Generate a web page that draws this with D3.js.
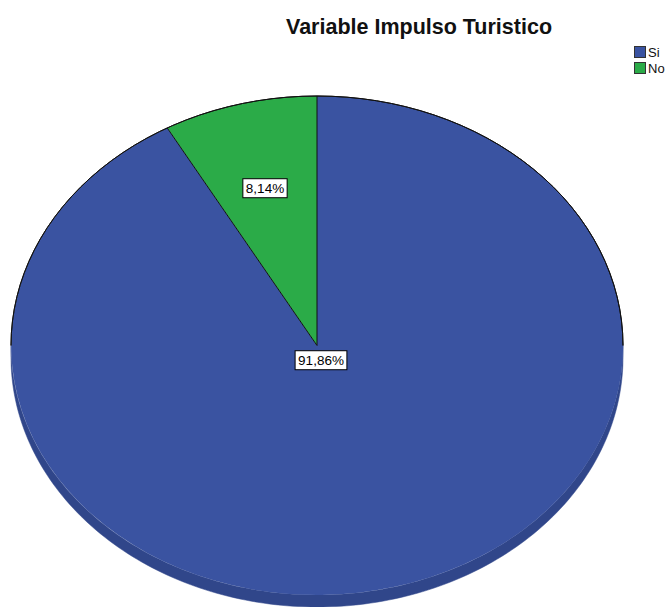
<!DOCTYPE html>
<html>
<head>
<meta charset="utf-8">
<script src="https://cdn.jsdelivr.net/npm/d3@7"></script>
<style>
  body { margin: 0; background: #fff; }
  svg { display: block; font-family: "Liberation Sans", Arial, sans-serif; }
</style>
</head>
<body>
<div id="chart"></div>
<script>
// data
const categories = ['Si', 'No'];
const percents = [91.86, 8.14];
const labels = ['91,86%', '8,14%'];
const colors = ['#3a53a1', '#2bab48'];
const sideColors = ['#30468a', '#238c3b'];

const width = 670;
const height = 607;
const cx = 317;
const cy = 345.5;
const rx = 306;
const ry = 249.5;
const depth = 12;

const $svg = d3.select('#chart').append('svg')
  .attr('width', width)
  .attr('height', height);

const pie = d3.pie().sort(null).value(d => d.value);
const arcs = pie(categories.map((c, i) => ({ name: c, value: percents[i], i })));

// point on the ellipse for a pie angle (0 = top, clockwise)
const pt = (a, dy = 0) => [cx + rx * Math.sin(a), cy - ry * Math.cos(a) + dy];

// side walls (only the front half, angles between PI/2 and 3PI/2)
const $side = $svg.append('g').attr('class', 'g-side');
arcs.forEach(d => {
  const a0 = Math.max(d.startAngle, Math.PI / 2);
  const a1 = Math.min(d.endAngle, 3 * Math.PI / 2);
  if (a1 <= a0) return;
  const n = 160;
  const top = d3.range(n + 1).map(k => pt(a0 + (a1 - a0) * k / n));
  const bottom = top.map(p => [p[0], p[1] + depth]).reverse();
  $side.append('path')
    .attr('d', d3.line()(top.concat(bottom)) + 'Z')
    .attr('fill', sideColors[d.data.i])
    .attr('stroke', sideColors[d.data.i])
    .attr('stroke-width', 0.5);
});

// top face: unit arcs scaled into the ellipse
const arc = d3.arc().innerRadius(0).outerRadius(1);
const $vis = $svg.append('g')
  .attr('transform', `translate(${cx},${cy}) scale(${rx},${ry})`);

$vis.selectAll('path.slice')
  .data(arcs)
  .join('path')
  .attr('class', 'slice')
  .attr('d', arc)
  .attr('fill', d => colors[d.data.i]);

// outline: back rim of the ellipse
$vis.append('path')
  .attr('d', d3.arc().innerRadius(1).outerRadius(1)({ startAngle: -Math.PI / 2, endAngle: Math.PI / 2 }))
  .attr('fill', 'none')
  .attr('stroke', '#111')
  .attr('stroke-width', 1)
  .attr('vector-effect', 'non-scaling-stroke');

// slice dividers
$svg.append('g').attr('class', 'g-dividers')
  .selectAll('line')
  .data(arcs)
  .join('line')
  .attr('x1', cx).attr('y1', cy)
  .attr('x2', d => pt(d.startAngle)[0])
  .attr('y2', d => pt(d.startAngle)[1])
  .attr('stroke', '#111')
  .attr('stroke-width', 1);

// labels
const labelPos = [[321, 360], [265, 188]];
const $labels = $svg.append('g').attr('class', 'g-labels');
arcs.forEach(d => {
  const i = d.data.i;
  const g = $labels.append('g').attr('transform', `translate(${labelPos[i][0]},${labelPos[i][1]})`);
  const t = g.append('text')
    .attr('text-anchor', 'middle')
    .attr('dy', '0.35em')
    .attr('font-size', 13.5)
    .attr('fill', '#000')
    .text(labels[i]);
  const bb = t.node().getBBox();
  g.insert('rect', 'text')
    .attr('x', bb.x - 3)
    .attr('y', bb.y - 2)
    .attr('width', bb.width + 6)
    .attr('height', bb.height + 4)
    .attr('fill', '#fff')
    .attr('stroke', '#000')
    .attr('stroke-width', 1);
});

// title
$svg.append('text')
  .attr('x', 419)
  .attr('y', 34)
  .attr('text-anchor', 'middle')
  .attr('font-size', 21.5)
  .attr('font-weight', 'bold')
  .attr('fill', '#111')
  .text('Variable Impulso Turistico');

// legend
const $legend = $svg.append('g').attr('class', 'g-legend');
categories.forEach((c, i) => {
  const y = 46 + i * 16;
  $legend.append('rect')
    .attr('x', 634.5).attr('y', y + 0.5)
    .attr('width', 11).attr('height', 11)
    .attr('fill', colors[i])
    .attr('stroke', '#333');
  $legend.append('text')
    .attr('x', 648).attr('y', y + 11)
    .attr('font-size', 13)
    .attr('fill', '#111')
    .text(c);
});
</script>
</body>
</html>
